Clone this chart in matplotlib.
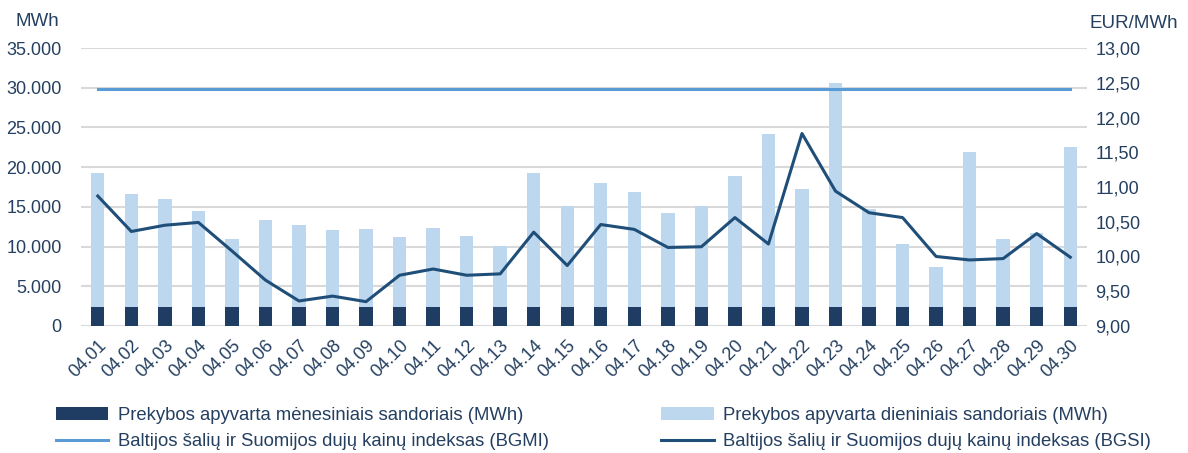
import numpy as np
import matplotlib.pyplot as plt
from matplotlib.ticker import FuncFormatter

plt.rcParams['font.family'] = ['Liberation Sans', 'DejaVu Sans']

days = ['04.%02d' % d for d in range(1, 31)]
monthly = [2400] * 30
total = [19300, 16600, 15950, 14500, 10950, 13400, 12700, 12100, 12200, 11250,
         12350, 11350, 10050, 19200, 15050, 17950, 16900, 14250, 15050, 18900,
         24200, 17250, 30600, 14700, 10300, 7450, 21900, 11000, 11700, 22550]
daily = [t - m for t, m in zip(total, monthly)]
bgmi = [12.41] * 30
bgsi = [10.87, 10.36, 10.45, 10.49, 10.08, 9.66, 9.36, 9.43, 9.35, 9.73,
        9.82, 9.73, 9.75, 10.35, 9.87, 10.46, 10.39, 10.13, 10.14, 10.56,
        10.18, 11.77, 10.94, 10.63, 10.56, 10.00, 9.95, 9.97, 10.33, 9.99]

txt = '#243f60'
c_month = '#1f3d63'
c_day = '#bdd7ee'
c_bgmi = '#5b9bd5'
c_bgsi = '#1f4e79'

fig = plt.figure(figsize=(11.88, 4.53), dpi=100)
ax = fig.add_axes([0.0682, 0.2804, 0.8468, 0.6136])
x = np.arange(len(days))

b1 = ax.bar(x, monthly, width=0.4, color=c_month, zorder=2)
b2 = ax.bar(x, daily, width=0.4, bottom=monthly, color=c_day, zorder=2)
ax.set_xlim(-0.5, len(days) - 0.5)
ax.set_ylim(0, 35000)
ax.set_yticks(np.arange(0, 35001, 5000))
ax.yaxis.set_major_formatter(FuncFormatter(lambda v, p: f'{int(v):,}'.replace(',', '.')))
ax.grid(axis='y', color='#d9d9d9', linewidth=1.5, zorder=0)
ax.set_axisbelow(True)
for s in ax.spines.values():
    s.set_visible(False)
ax.tick_params(axis='both', length=0, labelsize=13, labelcolor=txt)
ax.tick_params(axis='y', pad=14)
ax.set_xticks(x)
ax.set_xticklabels(days, rotation=45, ha='right', rotation_mode='anchor')
ax.tick_params(axis='x', pad=8)

ax2 = ax.twinx()
l1, = ax2.plot(x, bgmi, color=c_bgmi, linewidth=2.2)
l2, = ax2.plot(x, bgsi, color=c_bgsi, linewidth=2.2)
ax2.set_ylim(9, 13)
ax2.set_yticks(np.arange(9, 13.01, 0.5))
ax2.yaxis.set_major_formatter(FuncFormatter(lambda v, p: f'{v:.2f}'.replace('.', ',')))
for s in ax2.spines.values():
    s.set_visible(False)
ax2.tick_params(axis='y', length=0, labelsize=13, labelcolor=txt, pad=6)

fig.text(0.013, 0.952, 'MWh', fontsize=13.5, color=txt, va='center')
fig.text(0.992, 0.948, 'EUR/MWh', fontsize=13.5, color=txt, va='center', ha='right')

fig.legend([b1, l1, b2, l2],
           ['Prekybos apyvarta mėnesiniais sandoriais (MWh)',
            'Baltijos šalių ir Suomijos dujų kainų indeksas (BGMI)',
            'Prekybos apyvarta dieniniais sandoriais (MWh)',
            'Baltijos šalių ir Suomijos dujų kainų indeksas (BGSI)'],
           ncol=2, loc='upper left', bbox_to_anchor=(0.047, 0.101),
           frameon=False, fontsize=13.3, labelcolor=txt,
           handlelength=2.85, handleheight=0.7, handletextpad=0.5,
           columnspacing=6.1, labelspacing=0.5, borderaxespad=0, borderpad=0)

fig.savefig('out.png', dpi=100)
